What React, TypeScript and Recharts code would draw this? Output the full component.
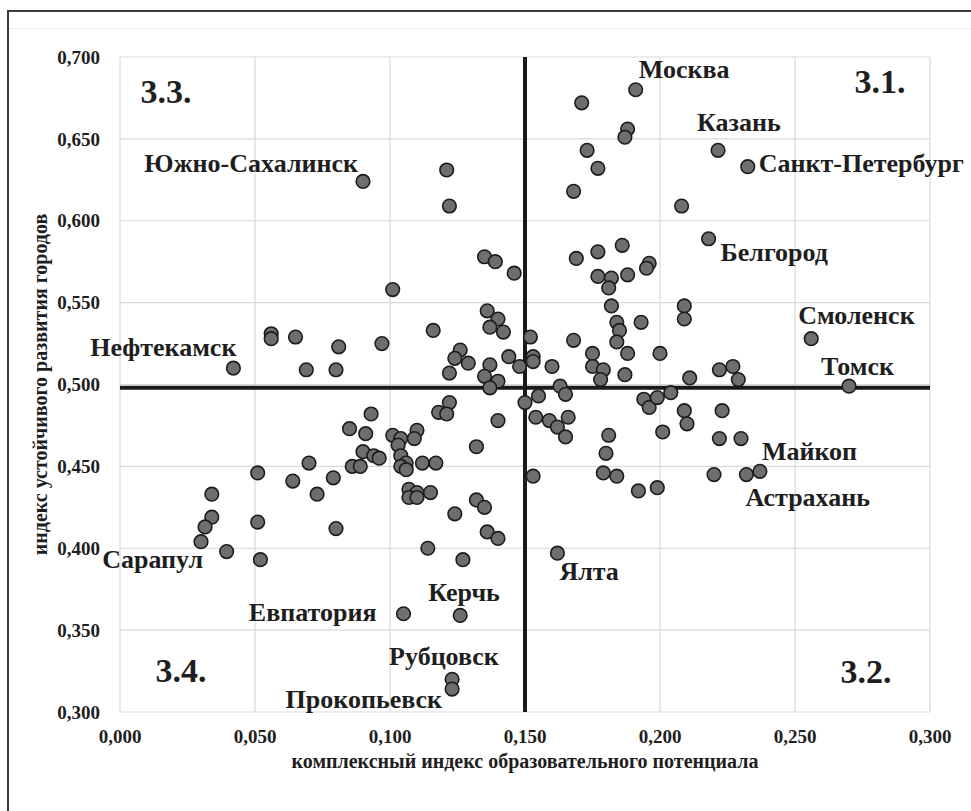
import React from 'react';
import { ScatterChart, Scatter, XAxis, YAxis, CartesianGrid, ReferenceLine } from 'recharts';

const xTicks = [0, 0.05, 0.1, 0.15, 0.2, 0.25, 0.3];
const yTicks = [0.3, 0.35, 0.4, 0.45, 0.5, 0.55, 0.6, 0.65, 0.7];
const xSplit = 0.15;
const ySplit = 0.498;

const xTitle = 'комплексный индекс образовательного потенциала';
const yTitle = 'индекс устойчивого развития городов';

const cityNames = ['Москва', 'Казань', 'Санкт-Петербург', 'Белгород', 'Южно-Сахалинск', 'Нефтекамск', 'Смоленск', 'Томск', 'Майкоп', 'Астрахань', 'Ялта', 'Керчь', 'Евпатория', 'Рубцовск', 'Прокопьевск', 'Сарапул'];
const cityX = [0.191, 0.2215, 0.2325, 0.218, 0.090, 0.042, 0.256, 0.270, 0.237, 0.232, 0.162, 0.126, 0.105, 0.123, 0.123, 0.030];
const cityY = [0.680, 0.643, 0.633, 0.589, 0.624, 0.510, 0.528, 0.499, 0.447, 0.445, 0.397, 0.359, 0.360, 0.320, 0.314, 0.404];

const otherX = [
  0.121, 0.122, 0.135, 0.139, 0.146, 0.101, 0.136, 0.140, 0.137, 0.142, 0.116, 0.097, 0.081, 0.080, 0.126, 0.124, 0.129, 0.122, 0.144, 0.137, 0.135, 0.140, 0.148,
  0.056, 0.056, 0.065, 0.069, 0.137,
  0.171, 0.188, 0.187, 0.173, 0.177, 0.168, 0.208, 0.169, 0.177, 0.186, 0.196, 0.195, 0.177, 0.182, 0.188, 0.181, 0.182, 0.184, 0.185, 0.184, 0.193, 0.168,
  0.152, 0.153, 0.153, 0.160, 0.175, 0.175, 0.179, 0.178, 0.187, 0.188, 0.209, 0.209, 0.200, 0.211, 0.222, 0.227, 0.229, 0.163,
  0.155, 0.165, 0.150, 0.154, 0.159, 0.162, 0.166, 0.165, 0.181, 0.180, 0.179, 0.184, 0.192, 0.194, 0.196, 0.204, 0.199, 0.209, 0.210, 0.223, 0.201, 0.222, 0.230, 0.220, 0.199, 0.153,
  0.122, 0.118, 0.121, 0.140, 0.132, 0.093, 0.085, 0.091, 0.101, 0.104, 0.110, 0.109, 0.103, 0.090, 0.094, 0.096, 0.104, 0.106, 0.104, 0.106, 0.086, 0.089, 0.112, 0.117,
  0.107, 0.110, 0.115, 0.107, 0.110, 0.132, 0.135, 0.124, 0.080, 0.136, 0.140, 0.114, 0.127,
  0.051, 0.064, 0.070, 0.073, 0.079, 0.034, 0.034, 0.0315, 0.0395, 0.051, 0.052,
];
const otherY = [
  0.631, 0.609, 0.578, 0.575, 0.568, 0.558, 0.545, 0.540, 0.535, 0.532, 0.533, 0.525, 0.523, 0.509, 0.521, 0.516, 0.513, 0.507, 0.517, 0.512, 0.505, 0.502, 0.511,
  0.531, 0.528, 0.529, 0.509, 0.498,
  0.672, 0.656, 0.651, 0.643, 0.632, 0.618, 0.609, 0.577, 0.581, 0.585, 0.574, 0.571, 0.566, 0.565, 0.567, 0.559, 0.548, 0.538, 0.533, 0.526, 0.538, 0.527,
  0.529, 0.517, 0.514, 0.511, 0.519, 0.511, 0.509, 0.503, 0.506, 0.519, 0.548, 0.540, 0.519, 0.504, 0.509, 0.511, 0.503, 0.499,
  0.493, 0.494, 0.489, 0.480, 0.478, 0.474, 0.480, 0.468, 0.469, 0.458, 0.446, 0.444, 0.435, 0.491, 0.486, 0.495, 0.492, 0.484, 0.476, 0.484, 0.471, 0.467, 0.467, 0.445, 0.437, 0.444,
  0.489, 0.483, 0.482, 0.478, 0.462, 0.482, 0.473, 0.470, 0.469, 0.467, 0.472, 0.467, 0.463, 0.459, 0.4565, 0.455, 0.4565, 0.452, 0.450, 0.448, 0.450, 0.450, 0.452, 0.452,
  0.436, 0.434, 0.434, 0.431, 0.431, 0.4295, 0.425, 0.421, 0.412, 0.410, 0.406, 0.400, 0.393,
  0.446, 0.441, 0.452, 0.433, 0.443, 0.433, 0.419, 0.413, 0.398, 0.416, 0.393,
];

const quadrantNames = ['3.3.', '3.1.', '3.4.', '3.2.'];
const quadrantX = [0.017, 0.2815, 0.0226, 0.2763];
const quadrantY = [0.672, 0.678, 0.3183, 0.3177];

const labelPlacement: Record<string, { dx: number; dy: number; anchor: 'start' | 'end' }> = {
  'Москва': { dx: 3, dy: -12, anchor: 'start' },
  'Казань': { dx: -21, dy: -19, anchor: 'start' },
  'Санкт-Петербург': { dx: 11, dy: 5, anchor: 'start' },
  'Белгород': { dx: 12, dy: 22, anchor: 'start' },
  'Южно-Сахалинск': { dx: -5, dy: -9, anchor: 'end' },
  'Нефтекамск': { dx: 3, dy: -12, anchor: 'end' },
  'Смоленск': { dx: -13, dy: -15, anchor: 'start' },
  'Томск': { dx: -28, dy: -11, anchor: 'start' },
  'Майкоп': { dx: 2, dy: -11, anchor: 'start' },
  'Астрахань': { dx: -1, dy: 31, anchor: 'start' },
  'Ялта': { dx: 2, dy: 27, anchor: 'start' },
  'Керчь': { dx: -32, dy: -14, anchor: 'start' },
  'Евпатория': { dx: -27, dy: 7, anchor: 'end' },
  'Рубцовск': { dx: -63, dy: -14, anchor: 'start' },
  'Прокопьевск': { dx: -10, dy: 19, anchor: 'end' },
  'Сарапул': { dx: 2, dy: 26, anchor: 'end' },
};

const otherData = otherX.map((x, i) => ({ x, y: otherY[i] }));
const cityData = cityNames.map((name, i) => ({ name, x: cityX[i], y: cityY[i] }));
const quadrantData = quadrantNames.map((name, i) => ({ name, x: quadrantX[i], y: quadrantY[i] }));

const FONT = '"Liberation Serif", "Times New Roman", serif';
const TEXT = '#1e1e1e';
const R = 6.8;

const fmt = (v: number) => v.toFixed(3).replace('.', ',');

const Dot = (props: any) => {
  const { cx, cy } = props;
  if (cx == null || cy == null) return null;
  return <circle cx={cx} cy={cy} r={R} fill="#6e6e6e" stroke="#1c1c1c" strokeWidth={1.6} />;
};

const CityDot = (props: any) => {
  const { cx, cy, payload } = props;
  if (cx == null || cy == null) return null;
  const p = labelPlacement[payload.name] || { dx: 8, dy: -8, anchor: 'start' };
  return (
    <g>
      <circle cx={cx} cy={cy} r={R} fill="#6e6e6e" stroke="#1c1c1c" strokeWidth={1.6} />
      <text x={cx + p.dx} y={cy + p.dy} textAnchor={p.anchor} fontFamily={FONT} fontWeight="bold" fontSize={26} fill={TEXT}>
        {payload.name}
      </text>
    </g>
  );
};

const QuadrantText = (props: any) => {
  const { cx, cy, payload } = props;
  if (cx == null || cy == null) return null;
  return (
    <text x={cx} y={cy} textAnchor="middle" fontFamily={FONT} fontWeight="bold" fontSize={34} fill={TEXT}>
      {payload.name}
    </text>
  );
};

export default function App() {
  return (
    <div style={{ position: 'absolute', left: 0, top: 0, width: 971, height: 811, background: '#fff' }}>
      <div style={{ position: 'absolute', left: 7, top: 10, width: 964, height: 0, borderTop: '2px solid #3a3a3a' }} />
      <div style={{ position: 'absolute', left: 7, top: 10, width: 0, height: 801, borderLeft: '2px solid #3a3a3a' }} />
      <div style={{ position: 'absolute', left: 9, top: 28, width: 962, height: 0, borderTop: '1px solid #f0f0f0' }} />
      <div style={{ position: 'absolute', left: 0, top: 0 }}>
        <ScatterChart width={971} height={811} margin={{ top: 57, right: 41, left: 40, bottom: 29 }}>
          <CartesianGrid stroke="#d9d9d9" strokeWidth={1.2} />
          <XAxis
            type="number"
            dataKey="x"
            domain={[0, 0.3]}
            ticks={xTicks}
            tickFormatter={fmt}
            axisLine={false}
            tickLine={false}
            tickSize={0}
            tickMargin={18}
            height={70}
            tick={{ fontFamily: FONT, fontWeight: 'bold', fontSize: 19, fill: TEXT }}
            label={(lp: any) => {
              const vb = lp.viewBox || {};
              return (
                <text x={vb.x + vb.width / 2} y={768} textAnchor="middle" fontFamily={FONT} fontWeight="bold" fontSize={20} fill={TEXT}>
                  {xTitle}
                </text>
              );
            }}
          />
          <YAxis
            type="number"
            dataKey="y"
            domain={[0.3, 0.7]}
            ticks={yTicks}
            tickFormatter={fmt}
            axisLine={false}
            tickLine={false}
            tickSize={0}
            tickMargin={20}
            width={80}
            tick={{ fontFamily: FONT, fontWeight: 'bold', fontSize: 19, fill: TEXT }}
            label={(lp: any) => {
              const vb = lp.viewBox || {};
              const cy = vb.y + vb.height / 2;
              return (
                <text x={40} y={cy} transform={`rotate(-90 40 ${cy})`} textAnchor="middle" dominantBaseline="central" fontFamily={FONT} fontWeight="bold" fontSize={20} fill={TEXT}>
                  {yTitle}
                </text>
              );
            }}
          />
          <ReferenceLine x={xSplit} stroke="#1a1a1a" strokeWidth={4} />
          <ReferenceLine y={ySplit} stroke="#1a1a1a" strokeWidth={4} />
          <Scatter data={quadrantData} shape={QuadrantText} isAnimationActive={false} />
          <Scatter data={otherData} shape={Dot} isAnimationActive={false} />
          <Scatter data={cityData} shape={CityDot} isAnimationActive={false} />
        </ScatterChart>
      </div>
    </div>
  );
}
